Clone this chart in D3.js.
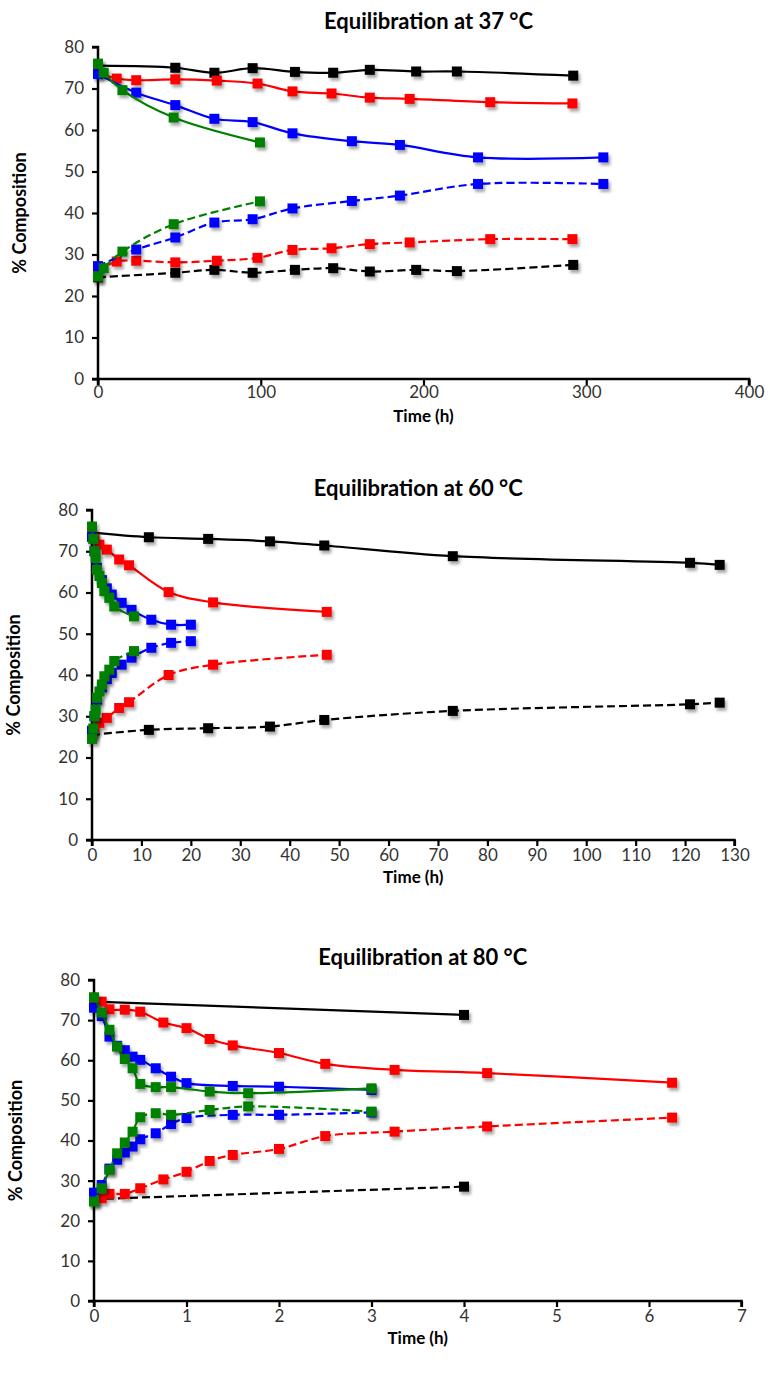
<!DOCTYPE html>
<html><head><meta charset="utf-8">
<script src="https://cdn.jsdelivr.net/npm/d3@7"></script>
<style>body{margin:0;background:#fff}svg{display:block}</style>
</head><body><svg id="c" width="770" height="1377"></svg>
<script>
// ---------- Panel 1: 37 °C ----------
const t37_black=[0,47.5,71.5,95,121,144.5,167,195.5,220.5,292];
const v37_black_s=[75.5,75.0,73.8,74.9,74.0,73.8,74.5,74.1,74.1,73.1];
const v37_black_d=[24.5,25.6,26.3,25.6,26.3,26.7,25.9,26.3,26.0,27.5];
const t37_red=[0,11.5,23.5,47.5,73,98,119.5,143.5,167,191.5,241,291.5];
const v37_red_s=[74.0,72.4,72.0,72.2,71.9,71.2,69.3,68.8,67.8,67.5,66.7,66.4];
const v37_red_d=[26.0,28.3,28.5,28.1,28.5,29.2,31.1,31.5,32.5,32.9,33.7,33.7];
const t37_blue=[0,23.5,47.5,71.5,95,119.5,156,185.5,233.5,310.5];
const v37_blue_s=[73.5,69.0,66.0,62.7,61.9,59.2,57.3,56.4,53.4,53.4];
const v37_blue_d=[27.2,31.2,34.1,37.7,38.5,41.1,42.9,44.2,47.0,47.0];
const t37_green=[0,3.5,15,46.5,99.5];
const v37_green_s=[76.0,73.8,69.6,63.0,57.0];
const v37_green_d=[24.7,26.7,30.7,37.3,42.8];
const x37_ticks=[0,100,200,300,400];

// ---------- Panel 2: 60 °C ----------
const t60_black=[0,11.5,23.5,36,47,73,121,127];
const v60_black_s=[74.5,73.4,73.0,72.4,71.4,68.8,67.2,66.7];
const v60_black_d=[25.5,26.7,27.1,27.5,29.1,31.3,32.9,33.3];
const t60_red=[0,0.5,1.5,3,5.5,7.5,15.5,24.5,47.5];
const v60_red_s=[74.0,73.0,71.6,70.4,68.0,66.6,60.1,57.6,55.3];
const v60_red_d=[26.0,27.0,28.4,29.6,32.0,33.4,40.0,42.5,44.9];
const t60_blue=[0,0.5,1,2,3,4,6,8,12,16,20];
const v60_blue_s=[73.5,70.0,66.0,63.0,61.0,59.5,57.5,55.8,53.4,52.2,52.2];
const v60_blue_d=[26.5,30.0,34.0,37.0,39.0,40.5,42.5,44.2,46.6,47.8,48.2];
const t60_green=[0,0.25,0.5,0.75,1,1.5,2,2.5,3.5,4.5,8.5];
const v60_green_s=[76.0,73.0,70.0,68.4,65.5,64.0,62.3,60.3,58.7,56.6,54.2];
const v60_green_d=[24.5,27.0,30.0,31.6,34.5,36.0,37.7,39.7,41.3,43.4,45.8];
const x60_ticks=[0,10,20,30,40,50,60,70,80,90,100,110,120,130];

// ---------- Panel 3: 80 °C ----------
const t80_black=[0,4];
const v80_black_s=[74.6,71.3];
const v80_black_d=[25.4,28.5];
const t80_red=[0,0.083,0.167,0.333,0.5,0.75,1,1.25,1.5,2,2.5,3.25,4.25,6.25];
const v80_red_s=[75.0,74.6,72.7,72.6,72.1,69.4,68.0,65.3,63.7,61.8,59.1,57.6,56.8,54.4];
const v80_red_d=[25.0,25.6,26.7,26.7,28.1,30.3,32.2,34.9,36.4,37.9,41.1,42.2,43.5,45.7];
const t80_blue=[0,0.083,0.167,0.25,0.333,0.417,0.5,0.667,0.833,1,1.5,2,3];
const v80_blue_s=[73.1,71.0,65.9,63.6,62.5,60.9,60.1,58.0,55.9,54.3,53.6,53.4,52.6];
const v80_blue_d=[27.0,28.9,33.0,35.2,37.0,38.5,40.3,41.8,44.1,45.6,46.4,46.4,47.0];
const t80_green=[0,0.083,0.167,0.25,0.333,0.417,0.5,0.667,0.833,1.25,1.667,3];
const v80_green_s=[75.7,71.9,67.6,63.4,60.3,58.0,54.1,53.3,53.3,52.2,51.8,53.0];
const v80_green_d=[24.8,28.1,32.7,36.8,39.5,42.2,45.8,46.8,46.4,47.6,48.5,47.2];
const x80_ticks=[0,1,2,3,4,5,6,7];

const y_ticks=[0,10,20,30,40,50,60,70,80];
const COLORS={black:"#000000",red:"#ff0000",blue:"#0000ff",green:"#008000"};

const panels=[
 {title:"Equilibration at 37 °C",xmax:400,xticks:x37_ticks,xr:[98,749],yr:[379,47],titleY:29,xlabY:422,pad:1,
  series:[["black",t37_black,v37_black_s,v37_black_d],["red",t37_red,v37_red_s,v37_red_d],
          ["blue",t37_blue,v37_blue_s,v37_blue_d],["green",t37_green,v37_green_s,v37_green_d]]},
 {title:"Equilibration at 60 °C",xmax:130,xticks:x60_ticks,xr:[92,734.5],yr:[840,510],titleY:496,xlabY:883,pad:3,
  series:[["black",t60_black,v60_black_s,v60_black_d],["red",t60_red,v60_red_s,v60_red_d],
          ["blue",t60_blue,v60_blue_s,v60_blue_d],["green",t60_green,v60_green_s,v60_green_d]]},
 {title:"Equilibration at 80 °C",xmax:7,xticks:x80_ticks,xr:[94,741.5],yr:[1301,980],titleY:965,xlabY:1344,pad:3,
  series:[["black",t80_black,v80_black_s,v80_black_d],["red",t80_red,v80_red_s,v80_red_d],
          ["blue",t80_blue,v80_blue_s,v80_blue_d],["green",t80_green,v80_green_s,v80_green_d]]}
];

const svg=d3.select("#c");
const defs=svg.append("defs");
const f=defs.append("filter").attr("id","sh").attr("x","-50%").attr("y","-50%").attr("width","250%").attr("height","250%");
f.append("feDropShadow").attr("dx",2).attr("dy",3).attr("stdDeviation",1.8).attr("flood-color","#000").attr("flood-opacity",0.35);

const FONT="Lato, 'Open Sans', sans-serif";

panels.forEach(p=>{
  const x=d3.scaleLinear().domain([0,p.xmax]).range(p.xr);
  const y=d3.scaleLinear().domain([0,80]).range(p.yr);
  const g=svg.append("g");

  // axes
  const ya=g.append("g").attr("transform",`translate(${p.xr[0]},0)`)
    .call(d3.axisLeft(y).tickValues(y_ticks).tickSize(6).tickPadding(8).tickFormat(d3.format("d")));
  const xa=g.append("g").attr("transform",`translate(0,${p.yr[0]})`)
    .call(d3.axisBottom(x).tickValues(p.xticks).tickSize(6).tickPadding(p.pad).tickFormat(d3.format("d")));
  [ya,xa].forEach(a=>{
    a.select(".domain").attr("stroke","#000").attr("stroke-width",2.5);
    a.selectAll(".tick line").attr("stroke","#000").attr("stroke-width",2.2);
    a.selectAll(".tick text").attr("font-family",FONT).attr("font-size",17).attr("fill","#333");
  });
  ya.select(".domain").attr("d",`M-6,${p.yr[0]}H0V${p.yr[1]}H-6`);
  xa.select(".domain").attr("d",`M${p.xr[0]},6V0H${p.xr[1]}V6`);

  // title & labels
  g.append("text").attr("x",(p.xr[0]+p.xr[1])/2+5).attr("y",p.titleY).attr("text-anchor","middle")
    .attr("font-family",FONT).attr("font-weight","bold").attr("font-size",22).text(p.title);
  g.append("text").attr("x",(p.xr[0]+p.xr[1])/2).attr("y",p.xlabY).attr("text-anchor","middle")
    .attr("font-family",FONT).attr("font-weight","bold").attr("font-size",17).text("Time (h)");
  g.append("text").attr("transform",`translate(${p.xr[0]-72},${(p.yr[0]+p.yr[1])/2}) rotate(-90)`)
    .attr("text-anchor","middle").attr("font-family",FONT).attr("font-weight","bold").attr("font-size",18)
    .text("% Composition");

  const line=d3.line().x(d=>x(d[0])).y(d=>y(d[1])).curve(d3.curveCatmullRom.alpha(0.5));
  p.series.forEach(([col,ts,vs,vd])=>{
    [[vs,null],[vd,"8,4"]].forEach(([vals,dash])=>{
      const pts=ts.map((t,i)=>[t,vals[i]]);
      g.append("path").datum(pts).attr("d",line).attr("fill","none")
        .attr("stroke",COLORS[col]).attr("stroke-width",2.2).attr("stroke-dasharray",dash);
      g.append("g").attr("filter","url(#sh)").selectAll("rect").data(pts).join("rect")
        .attr("x",d=>x(d[0])-5).attr("y",d=>y(d[1])-5).attr("width",10).attr("height",10)
        .attr("fill",COLORS[col]);
    });
  });
});
</script></body></html>
